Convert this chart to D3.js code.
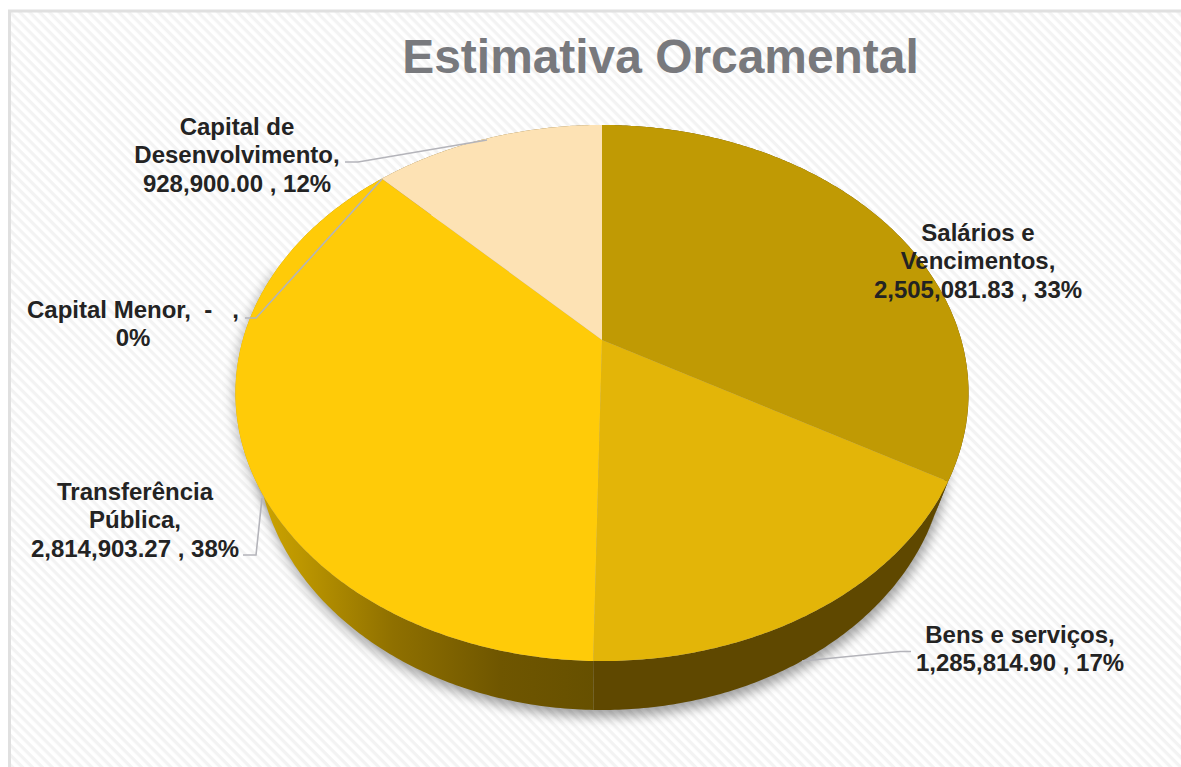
<!DOCTYPE html>
<html><head><meta charset="utf-8">
<script src="https://cdn.jsdelivr.net/npm/d3@7/dist/d3.min.js"></script>
<style>html,body{margin:0;padding:0;background:#fff;overflow:hidden}svg{display:block}
text{font-family:"Liberation Sans",Arial,sans-serif;font-weight:700}</style></head>
<body><svg id="c" width="1181" height="767"></svg>
<script>
const title = "Estimativa Orcamental";
const categories = ["Salários e Vencimentos","Bens e serviços","Transferência Pública","Capital Menor","Capital de Desenvolvimento"];
const values = [2505081.83,1285814.90,2814903.27,0,928900.00];
const topColors = ["#c09a04","#e3b508","#ffcb08","#f0b000","#fde2b4"];
const sideColors = ["#5f4800","#5f4800","url(#sideGrad)","#5f4800","#8a6d30"];
const labelLines = [
  ["Salários e","Vencimentos,","2,505,081.83 , 33%"],
  ["Bens e serviços,","1,285,814.90 , 17%"],
  ["Transferência","Pública,","2,814,903.27 , 38%"],
  ["Capital Menor,  -   ,","0%"],
  ["Capital de","Desenvolvimento,","928,900.00 , 12%"]
];
const labelAnchors = [[978,241],[1020,643],[135,500],[133,318],[237,135]];
const leaders = [
  null,
  [[802,661],[900,651.5],[911,651.5]],
  [[262,498],[256,555],[243,555]],
  [[382,179],[256,318],[245,318]],
  [[487,140],[358,162],[345,162]]
];

const svg = d3.select("#c");
const defs = svg.append("defs");
const pat = defs.append("pattern").attr("id","stripes").attr("patternUnits","userSpaceOnUse")
  .attr("width",7).attr("height",7).attr("patternTransform","rotate(45)");
pat.append("rect").attr("width",7).attr("height",7).attr("fill","#ffffff");
pat.append("rect").attr("width",7).attr("height",3.2).attr("fill","#f3f3f3");
const g = defs.append("linearGradient").attr("id","sideGrad").attr("gradientUnits","userSpaceOnUse")
  .attr("x1",258).attr("x2",596).attr("y1",0).attr("y2",0);
[[0,"#cda400"],[0.12,"#bd9700"],[0.4,"#8f7000"],[0.72,"#6f5600"],[1,"#665000"]]
  .forEach(([o,c])=>g.append("stop").attr("offset",o).attr("stop-color",c));
defs.append("filter").attr("id","blur").attr("x","-10%").attr("y","-10%").attr("width","120%").attr("height","120%")
  .append("feGaussianBlur").attr("stdDeviation",6);

// plot area
svg.append("rect").attr("x",9.5).attr("y",11).attr("width",1190).attr("height",780)
  .attr("fill","url(#stripes)").attr("stroke","#e0e0e0").attr("stroke-width",3);

// perspective mapping of a flat disc on to the screen
const k = -0.1978;
const project = (plane)=> (angle)=>{
  const x = Math.sin(angle), y = -Math.cos(angle), w = 1 + k*y;
  return [plane.cx + plane.a*x/w, (plane.c + plane.b*y)/w];
};
const topPlane = {cx:602,a:359.3,b:190.3,c:340};
const basePlane = {cx:602,a:338,b:177,c:392.6};
const topP = project(topPlane), baseP = project(basePlane);

const pie = d3.pie().sort(null).value(d=>d)(values);
const line = d3.line();
const arcPts = (fn,a0,a1)=>{
  const n = Math.max(2,Math.ceil((a1-a0)/0.01));
  return d3.range(n+1).map(i=>fn(a0+(a1-a0)*i/n));
};

// shadow
svg.append("path").attr("d",line(arcPts(baseP,0,2*Math.PI))+"Z")
  .attr("fill","#000").attr("opacity",0.36).attr("filter","url(#blur)")
  .attr("transform","translate(2,7)");
svg.append("path").attr("d",line(arcPts(topP,Math.PI*1.2,Math.PI*1.6))+"Z")
  .attr("fill","#000").attr("opacity",0.26).attr("filter","url(#blur)")
  .attr("transform","translate(-2,2)");

// side walls
svg.append("g").selectAll("path").data(pie).join("path")
  .attr("d",d=>line(arcPts(topP,d.startAngle,d.endAngle).concat(arcPts(baseP,d.startAngle,d.endAngle).reverse()))+"Z")
  .attr("fill",(d,i)=>sideColors[i]);

// top face
const apex = [topPlane.cx,topPlane.c];
svg.append("g").selectAll("path").data(pie).join("path")
  .attr("d",d=>line([apex].concat(arcPts(topP,d.startAngle,d.endAngle)))+"Z")
  .attr("fill",(d,i)=>topColors[i]);

// leader lines
svg.append("g").selectAll("path").data(leaders.filter(Boolean)).join("path")
  .attr("d",d=>line(d)).attr("fill","none").attr("stroke","#b4b4ba").attr("stroke-width",1.6);

// labels
const lab = svg.append("g").attr("font-size",24).attr("fill","#232323").attr("text-anchor","middle");
labelLines.forEach((lines,i)=>{
  lines.forEach((t,j)=>{
    lab.append("text").attr("x",labelAnchors[i][0]).attr("y",labelAnchors[i][1]+j*28.3)
      .attr("xml:space","preserve").style("white-space","pre").text(t);
  });
});

svg.append("text").attr("x",660.5).attr("y",73).attr("text-anchor","middle")
  .attr("font-size",47.9).attr("fill","#78797d").text(title);
</script></body></html>
